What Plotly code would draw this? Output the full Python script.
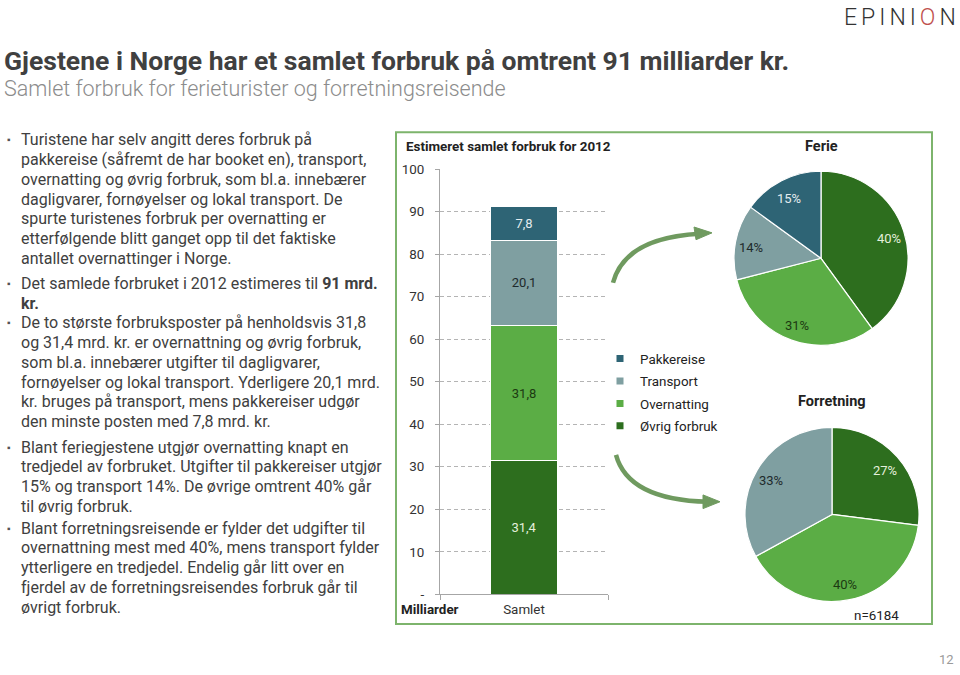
import math
import plotly.graph_objects as go

W, H = 960, 675


def px(x):
    return x / W


def py(y):
    return 1 - y / H


# ---------------- data ----------------
categories = ["Pakkereise", "Transport", "Overnatting", "Øvrig forbruk"]
cat_colors = ["#2E6475", "#7F9FA1", "#5BAD45", "#2D6E1E"]
cat_text_colors = ["#E4ECEF", "#1E2A2C", "#1C3A12", "#E4F0DC"]

bar_category = ["Samlet"]
total_values = [7.8, 20.1, 31.8, 31.4]          # mrd. kr, per category
ferie_pct = [15, 14, 31, 40]                     # % per category
forretning_pct = [0, 33, 40, 27]                 # % per category

y_tickvals = [0, 10, 20, 30, 40, 50, 60, 70, 80, 90, 100]
y_ticktext = ["-", "10", "20", "30", "40", "50", "60", "70", "80", "90", "100"]

title_text = "Gjestene i Norge har et samlet forbruk på omtrent 91 milliarder kr."
subtitle_text = "Samlet forbruk for ferieturister og forretningsreisende"

paragraphs = [
    ["Turistene har selv angitt deres forbruk på",
     "pakkereise (såfremt de har booket en), transport,",
     "overnatting og øvrig forbruk, som bl.a. innebærer",
     "dagligvarer, fornøyelser og lokal transport. De",
     "spurte turistenes forbruk per overnatting er",
     "etterfølgende blitt ganget opp til det faktiske",
     "antallet overnattinger i Norge."],
    ["Det samlede forbruket i 2012 estimeres til <b>91 mrd.</b>",
     "<b>kr.</b>"],
    ["De to største forbruksposter på henholdsvis 31,8",
     "og 31,4 mrd. kr. er overnattning og øvrig forbruk,",
     "som bl.a. innebærer utgifter til dagligvarer,",
     "fornøyelser og lokal transport. Yderligere 20,1 mrd.",
     "kr. bruges på transport, mens pakkereiser udgør",
     "den minste posten med 7,8 mrd. kr."],
    ["Blant feriegjestene utgjør overnatting knapt en",
     "tredjedel av forbruket. Utgifter til pakkereiser utgjør",
     "15% og transport 14%. De øvrige omtrent 40% går",
     "til øvrig forbruk."],
    ["Blant forretningsreisende er fylder det udgifter til",
     "overnattning mest med 40%, mens transport fylder",
     "ytterligere en tredjedel. Endelig går litt over en",
     "fjerdel av de forretningsreisendes forbruk går til",
     "øvrigt forbruk."],
]
paragraph_starts = [136, 283, 323, 450, 533]
LINE_H = 20.2

FONT = "Roboto"
TXT = "#404040"

fig = go.Figure()

# ---------------- stacked bar ----------------
for i in reversed(range(len(categories))):
    fig.add_trace(go.Bar(
        x=bar_category, y=[total_values[i]], name=categories[i],
        marker=dict(color=cat_colors[i], line=dict(color="white", width=1)),
        texttemplate="%{y:.1f}", textposition="inside", insidetextanchor="middle",
        textfont=dict(size=13, color=cat_text_colors[i], family=FONT),
        showlegend=False, hoverinfo="skip",
    ))

# ---------------- pies ----------------
pie_order = [3, 2, 1, 0]  # clockwise from 12 o'clock: Øvrig, Overnatting, Transport, Pakkereise
annotations = []
shapes = []


def add_pie(pcts, cx, cy, r):
    idx = [i for i in pie_order if pcts[i] > 0]
    fig.add_trace(go.Pie(
        labels=[categories[i] for i in idx],
        values=[pcts[i] for i in idx],
        textinfo="none",
        marker=dict(colors=[cat_colors[i] for i in idx], line=dict(color="white", width=1.2)),
        sort=False, direction="clockwise", rotation=0,
        domain=dict(x=[px(cx - r), px(cx + r)], y=[py(cy + r), py(cy - r)]),
        showlegend=False, hoverinfo="skip",
    ))
    # slice labels placed at ~0.8 R along each slice's mid-angle
    total = sum(pcts[i] for i in idx)
    acc = 0.0
    for i in idx:
        mid = (acc + pcts[i] / 2) / total * 2 * math.pi
        acc += pcts[i]
        lx = cx + 0.8 * r * math.sin(mid)
        ly = cy - 0.8 * r * math.cos(mid) + 2
        annotations.append(dict(x=px(lx), y=py(ly), xref="paper", yref="paper", xanchor="center",
                                yanchor="middle", text=f"{pcts[i]}%", showarrow=False,
                                font=dict(size=13, color=cat_text_colors[i], family=FONT)))


add_pie(ferie_pct, 821, 257, 89)
add_pie(forretning_pct, 832, 519, 89)

# ---------------- legend (dummy markers) ----------------
for i in range(len(categories)):
    fig.add_trace(go.Scatter(
        x=[None], y=[None], mode="markers", name=categories[i],
        marker=dict(symbol="square", size=7, color=cat_colors[i]),
        legendgroup=categories[i], showlegend=True, hoverinfo="skip",
    ))

# title / subtitle
annotations.append(dict(x=px(2), y=py(55), xref="paper", yref="paper", xanchor="left", yanchor="middle",
                        text=f"<b>{title_text}</b>", showarrow=False,
                        font=dict(size=26.5, color="#404040", family=FONT)))
annotations.append(dict(x=px(2), y=py(83), xref="paper", yref="paper", xanchor="left", yanchor="middle",
                        text=subtitle_text, showarrow=False,
                        font=dict(size=21.5, color="#8C8C8C", family=FONT, weight=300)))

# logo
annotations.append(dict(x=px(962), y=py(11), xref="paper", yref="paper", xanchor="right", yanchor="middle",
                        text='<span style="letter-spacing:4px">EPINI<span style="color:#C0504D">O</span>N</span>',
                        showarrow=False, font=dict(size=23, color="#333333", family=FONT, weight=300)))
# page number
annotations.append(dict(x=px(956), y=py(667), xref="paper", yref="paper", xanchor="right", yanchor="middle",
                        text="12", showarrow=False, font=dict(size=13, color="#9A9A9A", family=FONT)))

# body text
for p, start in zip(paragraphs, paragraph_starts):
    annotations.append(dict(x=px(5), y=py(start), xref="paper", yref="paper", xanchor="left", yanchor="middle",
                            text="▪", showarrow=False, font=dict(size=10, color="#555555", family=FONT)))
    for k, line in enumerate(p):
        annotations.append(dict(x=px(19), y=py(start + k * LINE_H), xref="paper", yref="paper",
                                xanchor="left", yanchor="middle", text=line, showarrow=False,
                                font=dict(size=16, color=TXT, family=FONT)))

# bar chart title & labels
annotations.append(dict(x=px(404), y=py(143), xref="paper", yref="paper", xanchor="left", yanchor="middle",
                        text="<b>Estimeret samlet forbruk for 2012</b>", showarrow=False,
                        font=dict(size=13.4, color="#222222", family=FONT)))
annotations.append(dict(x=px(399), y=py(616), xref="paper", yref="paper", xanchor="left", yanchor="middle",
                        text="<b>Milliarder</b>", showarrow=False,
                        font=dict(size=13.4, color="#222222", family=FONT)))
annotations.append(dict(x=px(821), y=py(143), xref="paper", yref="paper", xanchor="center", yanchor="middle",
                        text="<b>Ferie</b>", showarrow=False, font=dict(size=14.5, color="#222222", family=FONT)))
annotations.append(dict(x=px(832), y=py(403), xref="paper", yref="paper", xanchor="center", yanchor="middle",
                        text="<b>Forretning</b>", showarrow=False,
                        font=dict(size=14.5, color="#222222", family=FONT)))
annotations.append(dict(x=px(901), y=py(622), xref="paper", yref="paper", xanchor="right", yanchor="middle",
                        text="n=6184", showarrow=False, font=dict(size=13.4, color="#222222", family=FONT)))

# green panel border
shapes.append(dict(type="rect", xref="paper", yref="paper", x0=px(396), x1=px(932), y0=py(631), y1=py(128),
                   line=dict(color="#7DB46C", width=2), fillcolor="rgba(0,0,0,0)", layer="below"))

ARROW = "#6F9A5F"
# upper arrow
shapes.append(dict(type="path", xref="paper", yref="paper",
                   path=f"M {px(613)} {py(282)} Q {px(625)} {py(236)} {px(700)} {py(232)}",
                   line=dict(color=ARROW, width=4.5)))
shapes.append(dict(type="path", xref="paper", yref="paper",
                   path=f"M {px(712)} {py(231)} L {px(694)} {py(225)} L {px(696)} {py(238)} Z",
                   line=dict(color=ARROW, width=1), fillcolor=ARROW))
# lower arrow
shapes.append(dict(type="path", xref="paper", yref="paper",
                   path=f"M {px(616)} {py(458)} Q {px(628)} {py(504)} {px(708)} {py(506)}",
                   line=dict(color=ARROW, width=4.5)))
shapes.append(dict(type="path", xref="paper", yref="paper",
                   path=f"M {px(720)} {py(506)} L {px(703)} {py(499)} L {px(703)} {py(513)} Z",
                   line=dict(color=ARROW, width=1), fillcolor=ARROW))

fig.update_layout(
    width=W, height=H, margin=dict(l=0, r=0, t=0, b=0),
    paper_bgcolor="white", plot_bgcolor="white",
    separators=", ",
    barmode="stack", bargap=0.607,
    font=dict(family=FONT, color="#333333"),
    xaxis=dict(domain=[px(440), px(608)], type="category", showline=True, linecolor="#A6A6A6",
               ticks="outside", tickson="boundaries", ticklen=5, tickcolor="#A6A6A6",
               ticklabelstandoff=3,
               tickfont=dict(size=13.4, color="#333333"), showgrid=False, fixedrange=True),
    yaxis=dict(domain=[py(600.7), py(165.7)], range=[0, 100], tickvals=y_tickvals, ticktext=y_ticktext,
               showgrid=True, gridcolor="#B4B4B4", griddash="4px,3px", gridwidth=1,
               showline=True, linecolor="#A6A6A6", ticks="outside", ticklen=4, tickcolor="#A6A6A6",
               ticklabelstandoff=8, zeroline=False, tickfont=dict(size=13.4, color="#333333"),
               fixedrange=True),
    legend=dict(x=px(600), y=py(344), xanchor="left", yanchor="top", font=dict(size=13.4, color="#222222"),
                bgcolor="rgba(0,0,0,0)", itemwidth=30, tracegroupgap=2, traceorder="grouped"),
    annotations=annotations, shapes=shapes,
)

fig.write_html("out.html", config={"displayModeBar": False},
               post_script="document.body.style.margin='0';document.body.style.overflow='hidden';")
